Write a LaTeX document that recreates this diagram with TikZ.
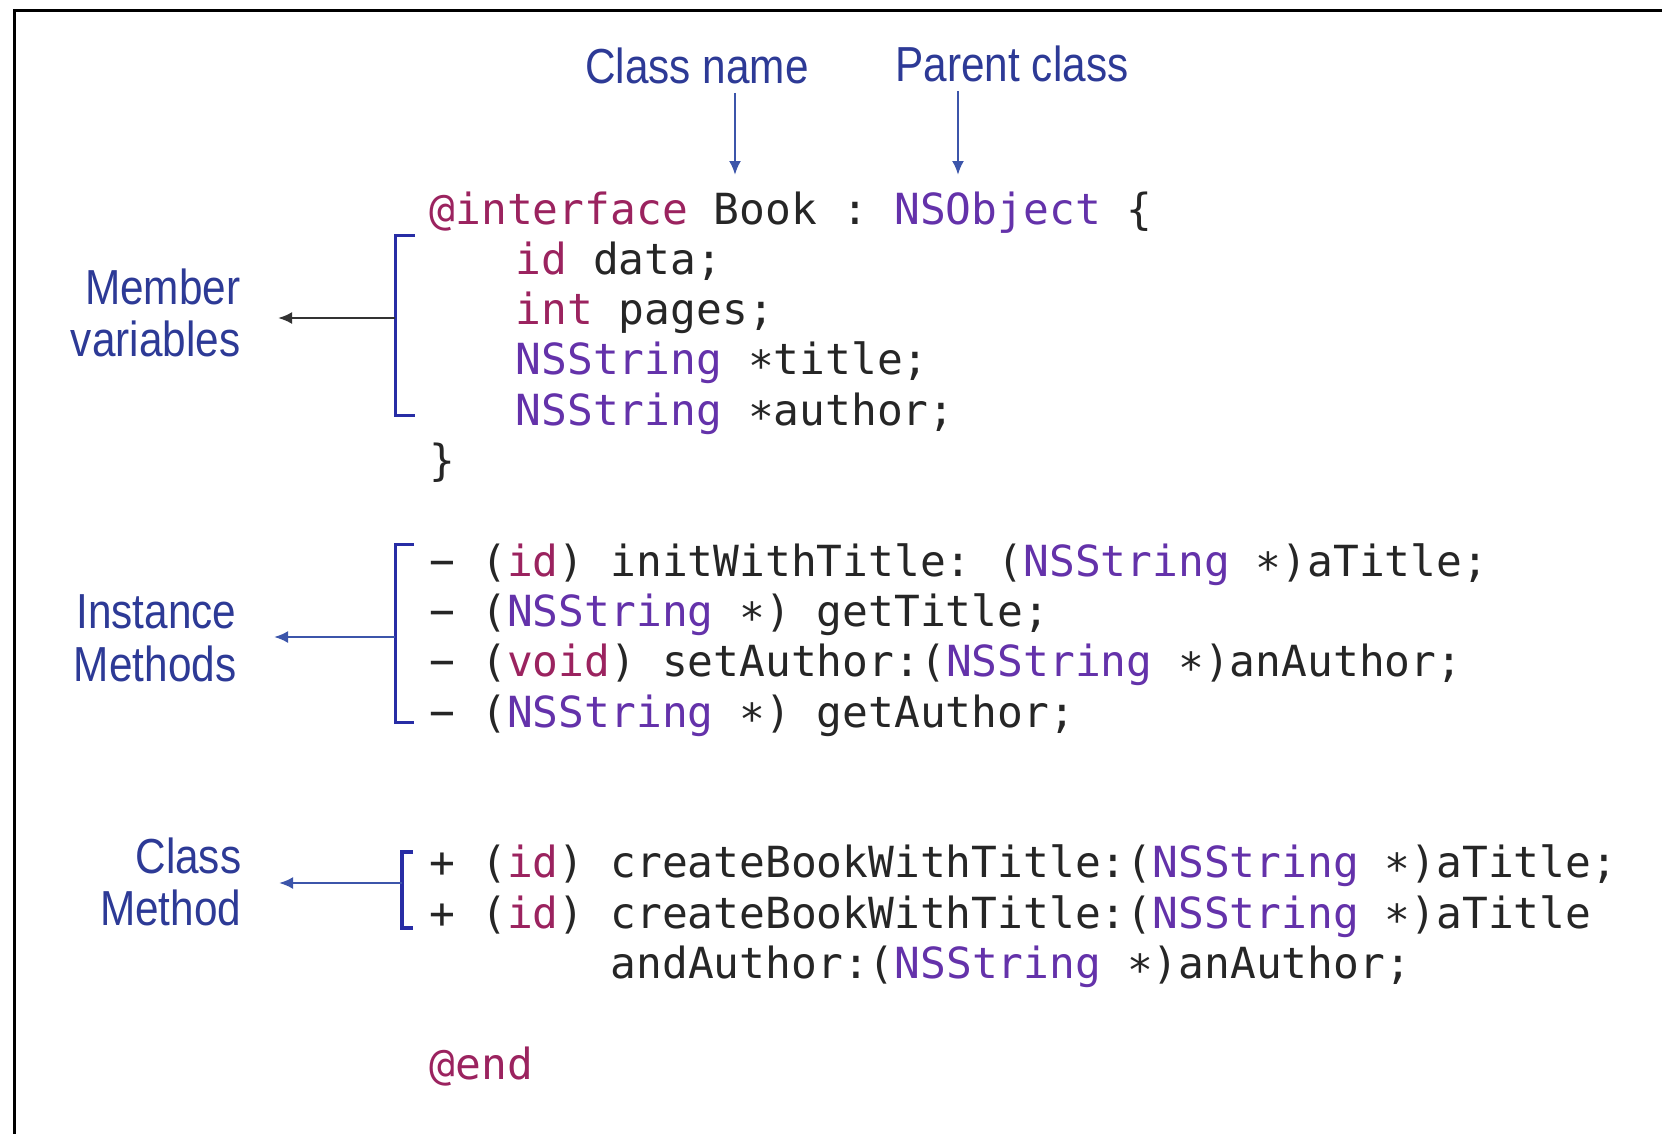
\documentclass[tikz,border=0pt]{standalone}
\usepackage{fontspec}
\usetikzlibrary{arrows.meta}

\newfontfamily\codefont[WordSpace={1,0,0}]{DejaVu Sans Mono}
\newfontfamily\labelfont[FakeStretch=0.86]{Liberation Sans}

\definecolor{kwcol}{RGB}{155,35,95}
\definecolor{typecol}{RGB}{100,50,170}
\definecolor{labelblue}{RGB}{45,58,150}
\definecolor{brackblue}{RGB}{40,45,165}
\definecolor{arrowblue}{RGB}{60,85,170}

\newcommand{\kw}[1]{\textcolor{kwcol}{#1}}
\newcommand{\ty}[1]{\textcolor{typecol}{#1}}
\newcommand{\ptr}{\raisebox{-0.3ex}{*}}

\begin{document}
\begin{tikzpicture}[
    code/.style={anchor=base west, inner sep=0, font=\codefont\frenchspacing\fontsize{12.2}{14}\selectfont, text=black!85},
    lbl/.style={anchor=east, align=right, inner xsep=0.37cm, inner ysep=0, font=\labelfont\fontsize{14}{15}\selectfont, text=labelblue},
    toplbl/.style={inner xsep=0, inner ysep=0.08cm, font=\labelfont\fontsize{14}{15}\selectfont, text=labelblue},
    brack/.style={brackblue, line width=0.3mm},
    callout/.style={-{Latex[length=1.4mm,width=1.2mm]}, arrowblue, line width=0.25mm}]

    \useasboundingbox (0,0) rectangle (16.62,-11.33);

    % frame
    \draw[line width=0.3mm] (0.15,-11.6) -- (0.15,-0.10) -- (16.8,-0.10);

    % interface and member variables
    \node[code] (intf)    at (4.29,-2.24)  {\kw{@interface} Book : \ty{NSObject} \{};
    \node[code] (vdata)   at (5.15,-2.743) {\kw{id} data;};
    \node[code] (vpages)  at (5.15,-3.246) {\kw{int} pages;};
    \node[code] (vtitle)  at (5.15,-3.749) {\ty{NSString} \ptr title;};
    \node[code] (vauthor) at (5.15,-4.252) {\ty{NSString} \ptr author;};
    \node[code] (closing) at (4.29,-4.755) {\}};

    % instance methods
    \node[code] (m1) at (4.29,-5.761) {− (\kw{id}) initWithTitle: (\ty{NSString} \ptr)aTitle;};
    \node[code] (m2) at (4.29,-6.264) {− (\ty{NSString} \ptr) getTitle;};
    \node[code] (m3) at (4.29,-6.767) {− (\kw{void}) setAuthor:(\ty{NSString} \ptr)anAuthor;};
    \node[code] (m4) at (4.29,-7.27)  {− (\ty{NSString} \ptr) getAuthor;};

    % class methods
    \node[code] (c1) at (4.29,-8.779) {+ (\kw{id}) createBookWithTitle:(\ty{NSString} \ptr)aTitle;};
    \node[code] (c2) at (4.29,-9.282) {+ (\kw{id}) createBookWithTitle:(\ty{NSString} \ptr)aTitle};
    \node[code] (c3) at (6.10,-9.785) {andAuthor:(\ty{NSString} \ptr)anAuthor;};

    \node[code] (endkw) at (4.29,-10.791) {\kw{@end}};

    % labels
    \node[toplbl] (cn) at (6.97,-0.66)  {Class name};
    \node[toplbl] (pc) at (10.12,-0.64) {Parent class};
    \node[lbl] (mv) at (2.78,-3.13) {Member\\variables};
    \node[lbl] (im) at (2.74,-6.38) {Instance\\Methods};
    \node[lbl] (cm) at (2.79,-8.82) {Class\\Method};

    % brackets
    \draw[brack] (4.15,-2.35) -- (3.95,-2.35) -- (3.95,-4.15) -- (4.15,-4.15);
    \draw[brack] (4.14,-5.44) -- (3.95,-5.44) -- (3.95,-7.22) -- (4.14,-7.22);
    \draw[brack, line width=0.4mm] (4.13,-8.52) -- (4.02,-8.52) -- (4.02,-9.28) -- (4.13,-9.28);
    \coordinate (mvMid) at (3.95,-3.18);
    \coordinate (imMid) at (3.95,-6.37);
    \coordinate (cmMid) at (4.02,-8.83);

    % arrows
    \coordinate (bookTip) at (7.35,-1.75);
    \coordinate (nsoTip)  at (9.58,-1.75);
    \draw[callout] (bookTip |- cn.south) -- (bookTip);
    \draw[callout] (nsoTip |- pc.south) -- (nsoTip);
    \draw[callout, black!80] (mvMid) -- (mv.east |- mvMid);
    \draw[callout] (imMid) -- (im.east |- imMid);
    \draw[callout] (cmMid) -- (cm.east |- cmMid);
\end{tikzpicture}
\end{document}
